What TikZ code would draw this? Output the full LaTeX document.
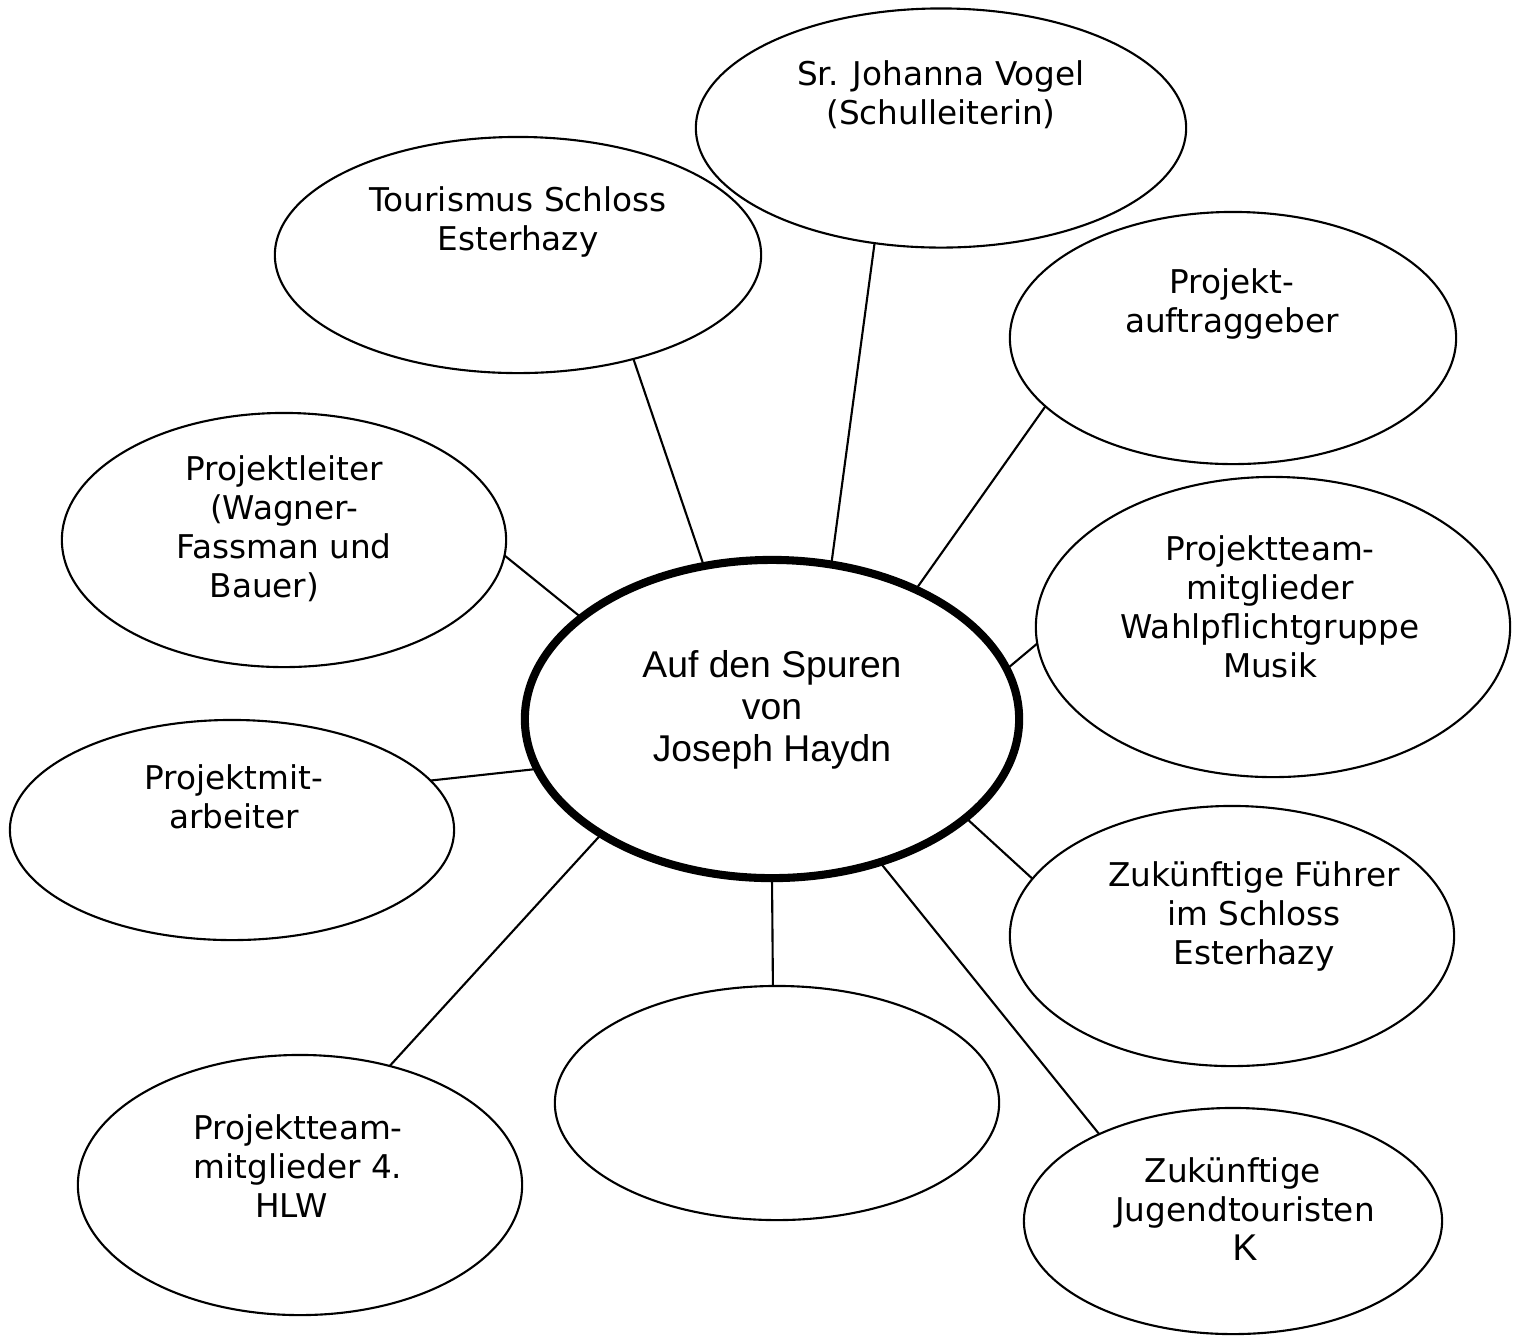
\documentclass[tikz,border=0pt]{standalone}
\usepackage{fontspec}
\setmainfont{DejaVu Sans}
\newfontfamily\arialfont{Liberation Sans}
\usepackage{tikz}
\usetikzlibrary{shapes.geometric}

\begin{document}
\begin{tikzpicture}[x=0.01cm,y=-0.01cm,outer sep=0pt,
bubble/.style={
  draw=black,
  ellipse,
  line width=0.6pt,
  inner sep=0pt},
mainbubble/.style={
  bubble,
  line width=2.3pt},
bubbletext/.style={
  align=center,
  inner sep=0pt,
  font={\fontsize{9.3}{11.1}\selectfont}},
maintext/.style={
  align=center,
  inner sep=0pt,
  font={\arialfont\fontsize{10.6}{12}\selectfont}},
spoke/.style={
  draw=black,
  line width=0.6pt},
]
\useasboundingbox (0,0) rectangle (1521,1338);

% ellipses
\node[mainbubble,minimum width=4.94cm,minimum height=3.18cm] (HAYDN) at (772,719) {};
\node[bubble,minimum width=4.90cm,minimum height=2.39cm] (VOGEL) at (941,128) {};
\node[bubble,minimum width=4.86cm,minimum height=2.36cm] (TOUR) at (518,255) {};
\node[bubble,minimum width=4.46cm,minimum height=2.52cm] (AUFTRAG) at (1233,338) {};
\node[bubble,minimum width=4.44cm,minimum height=2.54cm] (LEITER) at (284,540) {};
\node[bubble,minimum width=4.74cm,minimum height=3.00cm] (WAHL) at (1273,627) {};
\node[bubble,minimum width=4.44cm,minimum height=2.20cm] (MITARB) at (232,830) {};
\node[bubble,minimum width=4.44cm,minimum height=2.60cm] (FUEHRER) at (1232,936) {};
\node[bubble,minimum width=4.44cm,minimum height=2.34cm] (LEER) at (777,1103) {};
\node[bubble,minimum width=4.44cm,minimum height=2.60cm] (HLW) at (300,1185) {};
\node[bubble,minimum width=4.18cm,minimum height=2.26cm] (JUGEND) at (1233,1221) {};

% texts
\node[maintext] (HAYDNtext) at (772,710) {Auf den Spuren\\von\\Joseph Haydn};
\node[bubbletext] (VOGELtext) at (941,95) {Sr. Johanna Vogel\\(Schulleiterin)};
\node[bubbletext] (TOURtext) at (518,222) {Tourismus Schloss\\Esterhazy};
\node[bubbletext] (AUFTRAGtext) at (1232,304) {Projekt-\\auftraggeber};
\node[bubbletext] (LEITERtext) at (284,529) {Projektleiter\\(Wagner-\hspace*{0.9em}\\Fassman und\\Bauer)\hspace*{1.2em}};
\node[bubbletext] (WAHLtext) at (1270,607) {Projektteam-\\mitglieder\\Wahlpflichtgruppe\\Musik};
\node[bubbletext] (MITARBtext) at (234,797) {Projektmit-\\arbeiter};
\node[bubbletext] (FUEHRERtext) at (1254,916) {Zukünftige Führer\\im Schloss\\Esterhazy};
\node[bubbletext] (HLWtext) at (298,1166) {Projektteam-\\mitglieder 4.\\HLW\hspace*{0.4em}};
\node[bubbletext] (JUGENDtext) at (1245,1209) {Zukünftige\hspace*{0.75em}\\Jugendtouristen\\{\arialfont\fontsize{10.6}{11.1}\selectfont K}};

% spokes
\draw[spoke] (TOUR.-42) -- (HAYDN.114);
\draw[spoke] (VOGEL.-120) -- (HAYDN.69);
\draw[spoke] (AUFTRAG.200) -- (HAYDN.42);
\draw[spoke] (LEITER.-4) -- (HAYDN.152);
\draw[spoke] (WAHL.184.5) -- (HAYDN.12);
\draw[spoke] (MITARB.14) -- (HAYDN.192);
\draw[spoke] (FUEHRER.164) -- (HAYDN.-27);
\draw[spoke] (JUGEND.147) -- (HAYDN.-53);
\draw[spoke] (LEER.92.5) -- (HAYDN.-90);
\draw[spoke] (HLW.53) -- (HAYDN.214);
\end{tikzpicture}
\end{document}
